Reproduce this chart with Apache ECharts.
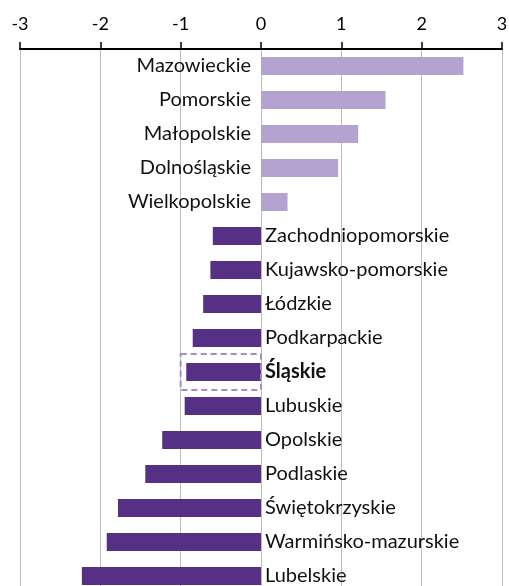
<!DOCTYPE html>
<html>
<head>
<meta charset="utf-8">
<script src="https://cdn.jsdelivr.net/npm/echarts@6/dist/echarts.min.js"></script>
<style>
html,body{margin:0;padding:0;background:#fff;}
#chart{width:509px;height:586px;}
</style>
</head>
<body>
<div id="chart"></div>
<script>
const categories = ['Mazowieckie','Pomorskie','Małopolskie','Dolnośląskie','Wielkopolskie','Zachodniopomorskie','Kujawsko-pomorskie','Łódzkie','Podkarpackie','Śląskie','Lubuskie','Opolskie','Podlaskie','Świętokrzyskie','Warmińsko-mazurskie','Lubelskie'];
const values = [2.52, 1.55, 1.21, 0.96, 0.33, -0.60, -0.63, -0.72, -0.85, -0.93, -0.95, -1.23, -1.44, -1.78, -1.92, -2.23];
const xTicks = [-3, -2, -1, 0, 1, 2, 3];
const highlighted = 'Śląskie';
const highlightRange = [-1, 0];

const LIGHT = '#b4a2cf', DARK = '#563084', DASH = '#a68dc8';
const FONT = 'Lato';

const chart = echarts.init(document.getElementById('chart'), null, {renderer:'canvas'});
const data = values.map((v, i) => ({
  value: v,
  itemStyle: {color: v >= 0 ? LIGHT : DARK},
  label: {
    position: v >= 0 ? 'left' : 'right',
    distance: v >= 0 ? 10 : 4,
    fontWeight: categories[i] === highlighted ? 'bold' : 'normal'
  }
}));

chart.setOption({
  animation: false,
  grid: {left: 20, right: 7, top: 49, height: 544, outerBoundsMode: 'none', containLabel: false},
  xAxis: {
    type: 'value', position: 'top',
    min: xTicks[0], max: xTicks[xTicks.length-1], interval: 1,
    axisLine: {show: true, onZero: false, lineStyle: {color: '#000', width: 2}},
    axisTick: {show: true, length: 7, lineStyle: {color: '#000', width: 1.5}},
    axisLabel: {color: '#000', fontSize: 18, fontFamily: FONT, margin: 16},
    splitLine: {show: true, lineStyle: {color: '#bdbdbd', width: 1}}
  },
  yAxis: {
    type: 'category', data: categories, inverse: true,
    axisLine: {show: false}, axisTick: {show: false}, axisLabel: {show: false},
    splitLine: {show: false}
  },
  series: [{
    type: 'bar', data: data, barWidth: 18,
    label: {show: true, formatter: '{b}', color: '#111', fontSize: 20, fontFamily: FONT}
  }]
});

const idx = categories.indexOf(highlighted);
const p0 = chart.convertToPixel({gridIndex: 0}, [highlightRange[0], categories[idx]]);
const p1 = chart.convertToPixel({gridIndex: 0}, [highlightRange[1], categories[idx]]);
chart.setOption({
  graphic: [{
    type: 'rect', z: 10,
    shape: {x: p0[0], y: p0[1] - 18, width: p1[0] - p0[0], height: 36},
    style: {fill: null, stroke: DASH, lineWidth: 2, lineDash: [6, 4]}
  }]
});
</script>
</body>
</html>
